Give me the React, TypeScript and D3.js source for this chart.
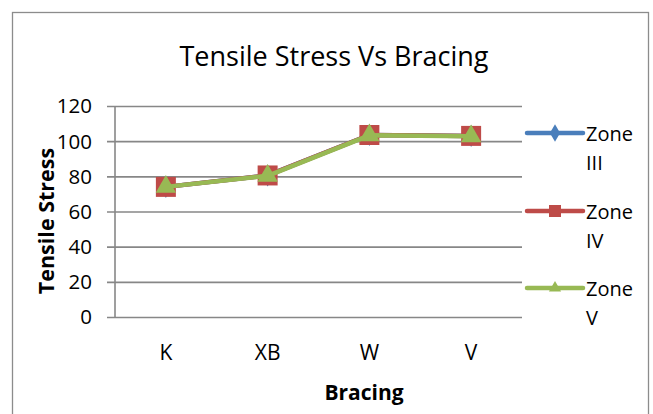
import React, { useEffect, useRef } from 'react';
import * as d3 from 'd3';

const categories = ['K', 'XB', 'W', 'V'];
const zone3 = [74, 80.5, 103.5, 103];
const zone4 = [74, 80.5, 103.5, 103];
const zone5 = [74, 80.3, 103.3, 102.8];
const yTicks = [0, 20, 40, 60, 80, 100, 120];

const seriesNames = ['Zone III', 'Zone IV', 'Zone V'];
const seriesValues = [zone3, zone4, zone5];
const seriesColors = ['#4A7EBB', '#BE4B48', '#98B954'];
const seriesMarkers = ['diamond', 'square', 'triangle'];

const font = '"Open Sans", Lato, sans-serif';

const App = () => {
  const svgRef = useRef(null);

  useEffect(() => {
    const width = 653;
    const height = 414;
    const plot = { left: 115, right: 522, top: 106, bottom: 317 };

    d3.select(svgRef.current).selectAll('*').remove();

    const svg = d3.select(svgRef.current)
      .attr('width', width)
      .attr('height', height);

    svg.append('rect')
      .attr('width', width)
      .attr('height', height)
      .attr('fill', '#ffffff');

    // chart border
    svg.append('rect')
      .attr('x', 12.5)
      .attr('y', 12.5)
      .attr('width', 636)
      .attr('height', 420)
      .attr('fill', 'none')
      .attr('stroke', '#8c8c8c')
      .attr('stroke-width', 1.3);

    svg.append('text')
      .attr('x', 334)
      .attr('y', 66)
      .attr('text-anchor', 'middle')
      .style('font-family', font)
      .style('font-size', '27px')
      .text('Tensile Stress Vs Bracing');

    const xScale = d3.scaleBand()
      .domain(categories)
      .range([plot.left, plot.right]);

    const yScale = d3.scaleLinear()
      .domain([0, 120])
      .range([plot.bottom, plot.top]);

    // gridlines with tick stubs
    svg.append('g')
      .attr('transform', `translate(${plot.left},0)`)
      .call(d3.axisLeft(yScale)
        .tickValues(yTicks)
        .tickSizeInner(-(plot.right - plot.left))
        .tickSizeOuter(0)
        .tickFormat(() => ''))
      .call(g => g.select('.domain').remove())
      .call(g => g.selectAll('line')
        .attr('x1', -8)
        .attr('stroke', '#878787')
        .attr('stroke-width', 1.6));

    // y axis line
    svg.append('line')
      .attr('x1', plot.left)
      .attr('x2', plot.left)
      .attr('y1', plot.top)
      .attr('y2', plot.bottom)
      .attr('stroke', '#878787')
      .attr('stroke-width', 1.6);

    // y tick labels
    svg.append('g')
      .selectAll('text')
      .data(yTicks)
      .join('text')
      .attr('x', 92)
      .attr('y', d => yScale(d))
      .attr('dy', '0.36em')
      .attr('text-anchor', 'end')
      .style('font-family', font)
      .style('font-size', '20.5px')
      .text(d => d);

    // x tick labels
    svg.append('g')
      .selectAll('text')
      .data(categories)
      .join('text')
      .attr('x', d => xScale(d)! + xScale.bandwidth() / 2)
      .attr('y', 360)
      .attr('text-anchor', 'middle')
      .style('font-family', font)
      .style('font-size', '21px')
      .text(d => d);

    svg.append('text')
      .attr('x', 364)
      .attr('y', 400)
      .attr('text-anchor', 'middle')
      .style('font-family', font)
      .style('font-size', '21px')
      .style('font-weight', 'bold')
      .text('Bracing');

    svg.append('text')
      .attr('transform', 'translate(54,221) rotate(-90)')
      .attr('text-anchor', 'middle')
      .style('font-family', font)
      .style('font-size', '21.5px')
      .style('font-weight', 'bold')
      .text('Tensile Stress');

    const markerPath = (type: string, size: number) => {
      if (type === 'square') return d3.symbol(d3.symbolSquare, size * size)();
      if (type === 'triangle') return d3.symbol(d3.symbolTriangle, size * size * 0.45)();
      return d3.symbol(d3.symbolDiamond, size * size * 0.35)();
    };

    const line = d3.line<number>()
      .x((_, i) => xScale(categories[i])! + xScale.bandwidth() / 2)
      .y(d => yScale(d));

    seriesValues.forEach((vals, s) => {
      svg.append('path')
        .datum(vals)
        .attr('d', line)
        .attr('fill', 'none')
        .attr('stroke', seriesColors[s])
        .attr('stroke-width', 4.5)
        .attr('stroke-linejoin', 'round');

      svg.append('g')
        .selectAll('path')
        .data(vals)
        .join('path')
        .attr('transform', (d, i) =>
          `translate(${xScale(categories[i])! + xScale.bandwidth() / 2},${yScale(d)})`)
        .attr('d', markerPath(seriesMarkers[s], 20))
        .attr('fill', seriesColors[s]);
    });

    // legend
    const legendRows = [133, 211, 288];
    seriesNames.forEach((name, s) => {
      const g = svg.append('g')
        .attr('transform', `translate(527,${legendRows[s]})`);
      g.append('line')
        .attr('x1', 0)
        .attr('x2', 56)
        .attr('stroke', seriesColors[s])
        .attr('stroke-width', 4.5)
        .attr('stroke-linecap', 'round');
      g.append('path')
        .attr('transform', 'translate(28,0)')
        .attr('d', markerPath(seriesMarkers[s], seriesMarkers[s] === 'diamond' ? 16 : 12))
        .attr('fill', seriesColors[s]);
      const [first, second] = name.split(' ');
      g.append('text')
        .attr('x', 59)
        .attr('y', 8)
        .style('font-family', font)
        .style('font-size', '20px')
        .text(first);
      g.append('text')
        .attr('x', 59)
        .attr('y', 37)
        .style('font-family', font)
        .style('font-size', '20px')
        .text(second);
    });
  }, []);

  return (
    <svg ref={svgRef} style={{ position: 'absolute', left: 0, top: 0 }}></svg>
  );
};

export default App;
